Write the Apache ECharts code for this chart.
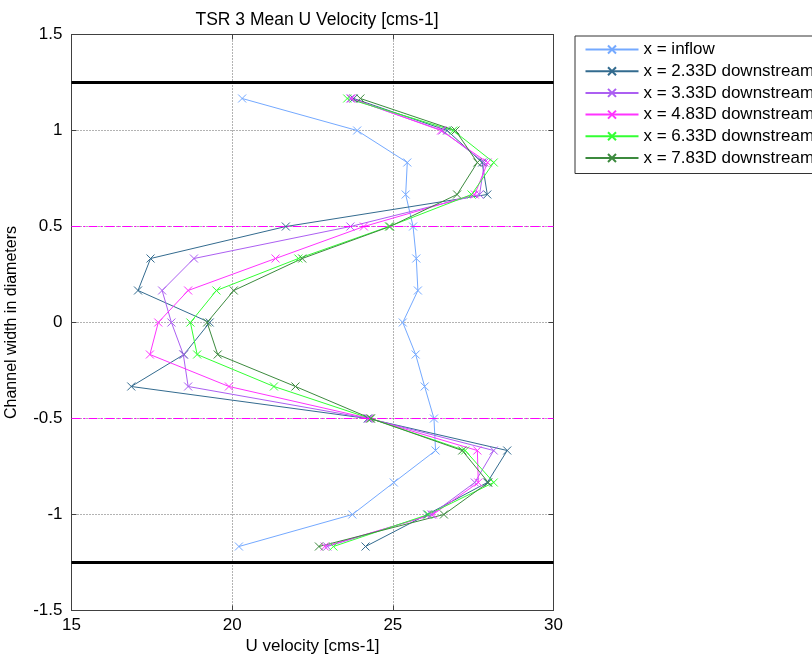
<!DOCTYPE html>
<html>
<head>
<meta charset="utf-8">
<script src="https://cdn.jsdelivr.net/npm/echarts@6/dist/echarts.min.js"></script>
<style>html,body{margin:0;padding:0;background:#fff;}#c{width:812px;height:659px;}</style>
</head>
<body>
<div id="c"></div>
<script>
// Channel positions (diameters)
const yLevels = [1.1667, 1.0, 0.8333, 0.6667, 0.5, 0.3333, 0.1667, 0, -0.1667, -0.3333, -0.5, -0.6667, -0.8333, -1.0, -1.1667];
// U velocity [cms-1] per station
const uInflow = [20.31, 23.89, 25.45, 25.40, 25.63, 25.73, 25.78, 25.31, 25.71, 25.99, 26.28, 26.33, 25.03, 23.74, 20.21];
const u233 = [23.78, 26.69, 27.78, 27.94, 21.67, 17.46, 17.07, 19.30, 18.50, 16.86, 24.22, 28.56, 27.94, 26.07, 24.15];
const u333 = [23.68, 26.54, 27.85, 27.70, 23.68, 18.81, 17.82, 18.11, 18.48, 18.63, 24.25, 28.14, 27.55, 26.20, 22.96];
const u483 = [23.72, 26.50, 27.95, 27.55, 24.10, 21.35, 18.63, 17.70, 17.44, 19.90, 24.28, 27.63, 27.66, 26.25, 22.88];
const u633 = [23.58, 26.88, 28.14, 27.45, 24.88, 22.06, 19.51, 18.70, 18.91, 21.30, 24.30, 27.25, 28.14, 26.10, 23.15];
const u783 = [23.99, 26.95, 27.63, 27.00, 24.91, 22.18, 20.05, 19.22, 19.55, 21.97, 24.32, 27.16, 27.97, 26.59, 22.70];
const seriesNames = ['x = inflow', 'x = 2.33D downstream', 'x = 3.33D downstream', 'x = 4.83D downstream', 'x = 6.33D downstream', 'x = 7.83D downstream'];
const seriesValues = [uInflow, u233, u333, u483, u633, u783];
const seriesColors = ['#74a9ff', '#336b8f', '#ac5ff2', '#ff33ff', '#33ff33', '#3c8a3e'];
// reference lines
const channelWalls = [1.25, -1.25];
const wakeEdges = [0.5, -0.5];
const xRange = [15, 30];
const yRange = [-1.5, 1.5];

const FONT = 'Liberation Sans, Arial, Helvetica, sans-serif';
const xMarker = 'path://M0,0L10,10M10,0L0,10';

const series = seriesNames.map((name, k) => ({
  name: name,
  type: 'line',
  data: seriesValues[k].map((v, i) => [v, yLevels[i]]),
  symbol: xMarker,
  symbolSize: 8,
  showAllSymbol: true,
  lineStyle: { color: seriesColors[k], width: 1 },
  itemStyle: { color: 'rgba(0,0,0,0)', borderColor: seriesColors[k], borderWidth: 1 },
  emphasis: { disabled: true },
  animation: false,
  z: 3
}));

function refSeries(name, values, style) {
  return {
    name: name,
    type: 'line',
    data: [],
    silent: true,
    animation: false,
    z: 2,
    markLine: {
      silent: true,
      symbol: ['none', 'none'],
      label: { show: false },
      animation: false,
      lineStyle: style,
      emphasis: { disabled: true },
      data: values.map(v => ({ yAxis: v }))
    }
  };
}
series.push(refSeries('walls', channelWalls, { color: '#000000', width: 3, type: 'solid', opacity: 1 }));
series.push(refSeries('wake', wakeEdges, { color: '#ff00ff', width: 1, type: [9, 3, 2, 3], opacity: 1 }));

const gridLine = { show: true, lineStyle: { color: '#666', width: 1, type: [1, 2] } };

const option = {
  backgroundColor: '#fff',
  animation: false,
  title: {
    text: 'TSR 3 Mean U Velocity [cms-1]',
    left: 312, top: 6, textAlign: 'center',
    textStyle: { fontFamily: FONT, fontSize: 17.5, fontWeight: 'normal', color: '#000' }
  },
  legend: {
    data: seriesNames,
    orient: 'vertical',
    left: 575, top: 36,
    padding: [5, 10, 7, 9.5],
    itemWidth: 53, itemHeight: 10, itemGap: 4.7,
    borderColor: '#333', borderWidth: 1,
    backgroundColor: '#fff',
    textStyle: { fontFamily: FONT, fontSize: 17, color: '#000' },
    selectedMode: false
  },
  grid: { left: 71.5, right: 258.5, top: 34.5, bottom: 48.5, outerBoundsMode: 'none', containLabel: false, show: true, borderColor: '#404040', borderWidth: 1, backgroundColor: 'transparent' },
  xAxis: [{
    type: 'value', min: xRange[0], max: xRange[1], interval: 5,
    name: 'U velocity [cms-1]', nameLocation: 'middle', nameGap: 27, nameMoveOverlap: false,
    nameTextStyle: { fontFamily: FONT, fontSize: 17, color: '#000', verticalAlign: 'top' },
    axisLine: { show: true, onZero: false, lineStyle: { color: '#404040' } },
    axisTick: { show: true, inside: true, length: 5, lineStyle: { color: '#404040' } },
    axisLabel: { fontFamily: FONT, fontSize: 17, color: '#000', margin: 6 },
    splitLine: gridLine
  }, {
    type: 'value', min: xRange[0], max: xRange[1], interval: 5, position: 'top',
    axisLine: { show: true, onZero: false, lineStyle: { color: '#404040' } },
    axisTick: { show: true, inside: true, length: 5, lineStyle: { color: '#404040' } },
    axisLabel: { show: false }, splitLine: { show: false }
  }],
  yAxis: [{
    type: 'value', min: yRange[0], max: yRange[1], interval: 0.5,
    name: 'Channel width in diameters', nameLocation: 'middle', nameGap: 52, nameRotate: 90, nameMoveOverlap: false,
    nameTextStyle: { fontFamily: FONT, fontSize: 16, color: '#000' },
    axisLine: { show: true, onZero: false, lineStyle: { color: '#404040' } },
    axisTick: { show: true, inside: true, length: 5, lineStyle: { color: '#404040' } },
    axisLabel: { fontFamily: FONT, fontSize: 17, color: '#000', margin: 9 },
    splitLine: gridLine
  }, {
    type: 'value', min: yRange[0], max: yRange[1], interval: 0.5, position: 'right',
    axisLine: { show: true, onZero: false, lineStyle: { color: '#404040' } },
    axisTick: { show: true, inside: true, length: 5, lineStyle: { color: '#404040' } },
    axisLabel: { show: false }, splitLine: { show: false }
  }],
  series: series
};

const chart = echarts.init(document.getElementById('c'), null, { renderer: 'canvas' });
chart.setOption(option);
</script>
</body>
</html>
